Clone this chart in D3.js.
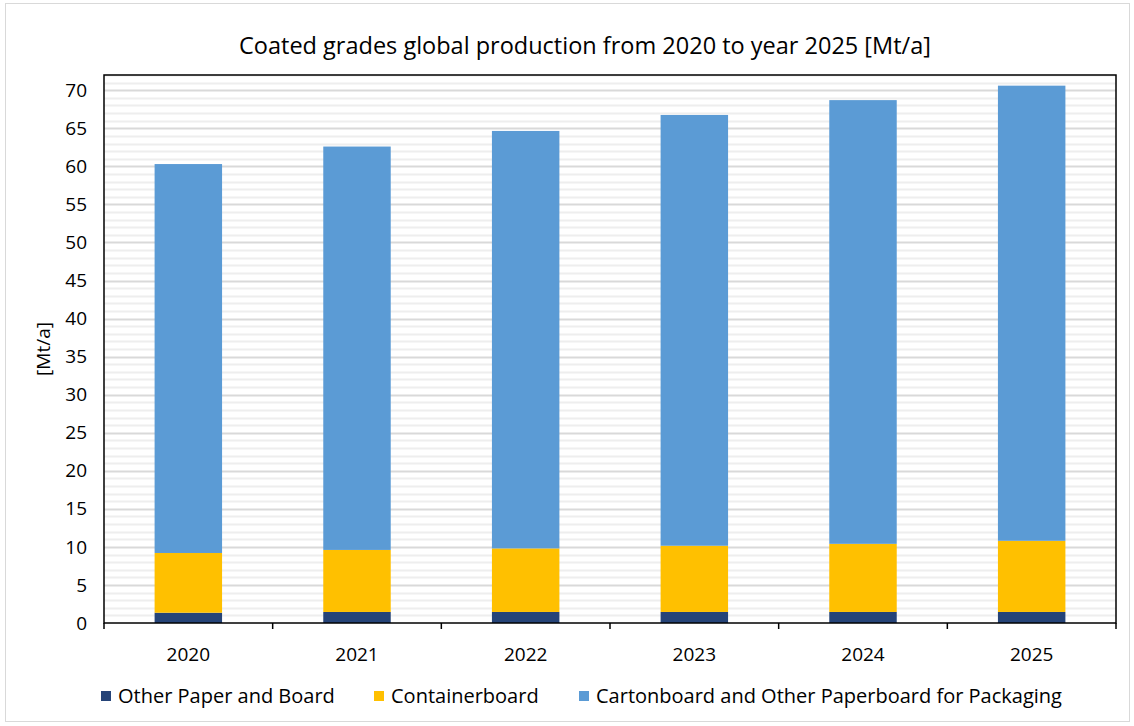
<!DOCTYPE html>
<html>
<head>
<meta charset="utf-8">
<script src="https://cdn.jsdelivr.net/npm/d3@7"></script>
<style>
  body { margin: 0; background: #fff; }
  text { font-family: "Open Sans", "Liberation Sans", Arial, sans-serif; fill: #000; }
</style>
</head>
<body>
<div id="chart"></div>
<script>
var years = ["2020", "2021", "2022", "2023", "2024", "2025"];
var seriesNames = ["Other Paper and Board", "Containerboard", "Cartonboard and Other Paperboard for Packaging"];
var otherPaper = [1.35, 1.45, 1.45, 1.45, 1.45, 1.45];
var containerboard = [7.85, 8.15, 8.35, 8.7, 8.95, 9.35];
var cartonboard = [51.1, 53.0, 54.85, 56.6, 58.3, 59.8];
var colors = ["#264478", "#ffc000", "#5b9bd5"];
var yTicks = [0, 5, 10, 15, 20, 25, 30, 35, 40, 45, 50, 55, 60, 65, 70];

var svg = d3.select("#chart").append("svg")
    .attr("width", 1134)
    .attr("height", 726);

var margin = { top: 75, right: 18, bottom: 103, left: 104 },
    width = 1134 - margin.left - margin.right,
    height = 726 - margin.top - margin.bottom;

// outer chart border
svg.append("rect")
    .attr("x", 5.5).attr("y", 3.5)
    .attr("width", 1124).attr("height", 718)
    .attr("fill", "none")
    .attr("stroke", "#d9d9d9");

svg.append("text")
    .attr("x", 585).attr("y", 54)
    .attr("text-anchor", "middle")
    .style("font-size", "23.5px")
    .text("Coated grades global production from 2020 to year 2025 [Mt/a]");

var g = svg.append("g").attr("transform", "translate(" + margin.left + "," + margin.top + ")");

var x = d3.scaleBand().domain(years).range([0, width]).paddingInner(0.6).paddingOuter(0.3);
var xb = d3.scaleLinear().domain([0, years.length]).range([0, width]);
var y = d3.scaleLinear().domain([0, 72]).range([height, 0]);

// minor gridlines
g.append("g").selectAll("line")
    .data(d3.range(1, 73).filter(function(v) { return v % 5 !== 0; }))
    .enter().append("line")
    .attr("x1", 0).attr("x2", width)
    .attr("y1", function(d) { return Math.round(y(d)) + 0.5; })
    .attr("y2", function(d) { return Math.round(y(d)) + 0.5; })
    .attr("stroke", "#eeeeee").attr("stroke-width", 2);

// major gridlines
g.append("g").selectAll("line")
    .data(yTicks.slice(1))
    .enter().append("line")
    .attr("x1", 0).attr("x2", width)
    .attr("y1", function(d) { return Math.round(y(d)) + 0.5; })
    .attr("y2", function(d) { return Math.round(y(d)) + 0.5; })
    .attr("stroke", "#d9d9d9").attr("stroke-width", 2);

var table = years.map(function(yr, i) {
    return { year: yr, a: otherPaper[i], b: containerboard[i], c: cartonboard[i] };
});
var stack = d3.stack().keys(["a", "b", "c"])(table);

g.selectAll(".layer")
    .data(stack)
    .enter().append("g")
    .attr("class", "layer")
    .attr("fill", function(d, i) { return colors[i]; })
    .selectAll("rect")
    .data(function(d) { return d; })
    .enter().append("rect")
    .attr("x", function(d) { return x(d.data.year); })
    .attr("width", x.bandwidth())
    .attr("y", function(d) { return y(d[1]); })
    .attr("height", function(d) { return y(d[0]) - y(d[1]); });

// plot frame
g.append("rect")
    .attr("x", 0).attr("y", 0)
    .attr("width", width).attr("height", height)
    .attr("fill", "none")
    .attr("stroke", "#000").attr("stroke-width", 1.5);

// y axis labels
g.append("g").selectAll("text")
    .data(yTicks)
    .enter().append("text")
    .attr("x", -17)
    .attr("y", function(d) { return y(d); })
    .attr("dy", "0.35em")
    .attr("text-anchor", "end")
    .style("font-size", "19px")
    .text(function(d) { return d; });

// x axis ticks at category boundaries
g.append("g").selectAll("line")
    .data(d3.range(0, years.length + 1))
    .enter().append("line")
    .attr("x1", function(d) { return xb(d); })
    .attr("x2", function(d) { return xb(d); })
    .attr("y1", height).attr("y2", height + 6)
    .attr("stroke", "#000").attr("stroke-width", 1.5);

g.append("g").selectAll("text")
    .data(years)
    .enter().append("text")
    .attr("x", function(d) { return x(d) + x.bandwidth() / 2; })
    .attr("y", height + 38)
    .attr("text-anchor", "middle")
    .style("font-size", "19px")
    .text(function(d) { return d; });

svg.append("text")
    .attr("transform", "translate(50," + (margin.top + height / 2) + ") rotate(-90)")
    .attr("text-anchor", "middle")
    .style("font-size", "19px")
    .text("[Mt/a]");

// legend
var legendX = [101, 374, 579];
var legend = svg.append("g").selectAll("g")
    .data(seriesNames)
    .enter().append("g")
    .attr("transform", function(d, i) { return "translate(" + legendX[i] + ",691)"; });
legend.append("rect")
    .attr("width", 10).attr("height", 10)
    .attr("fill", function(d, i) { return colors[i]; });
legend.append("text")
    .attr("x", 17).attr("y", 5)
    .attr("dy", "0.35em")
    .style("font-size", "20px")
    .text(function(d) { return d; });
</script>
</body>
</html>
